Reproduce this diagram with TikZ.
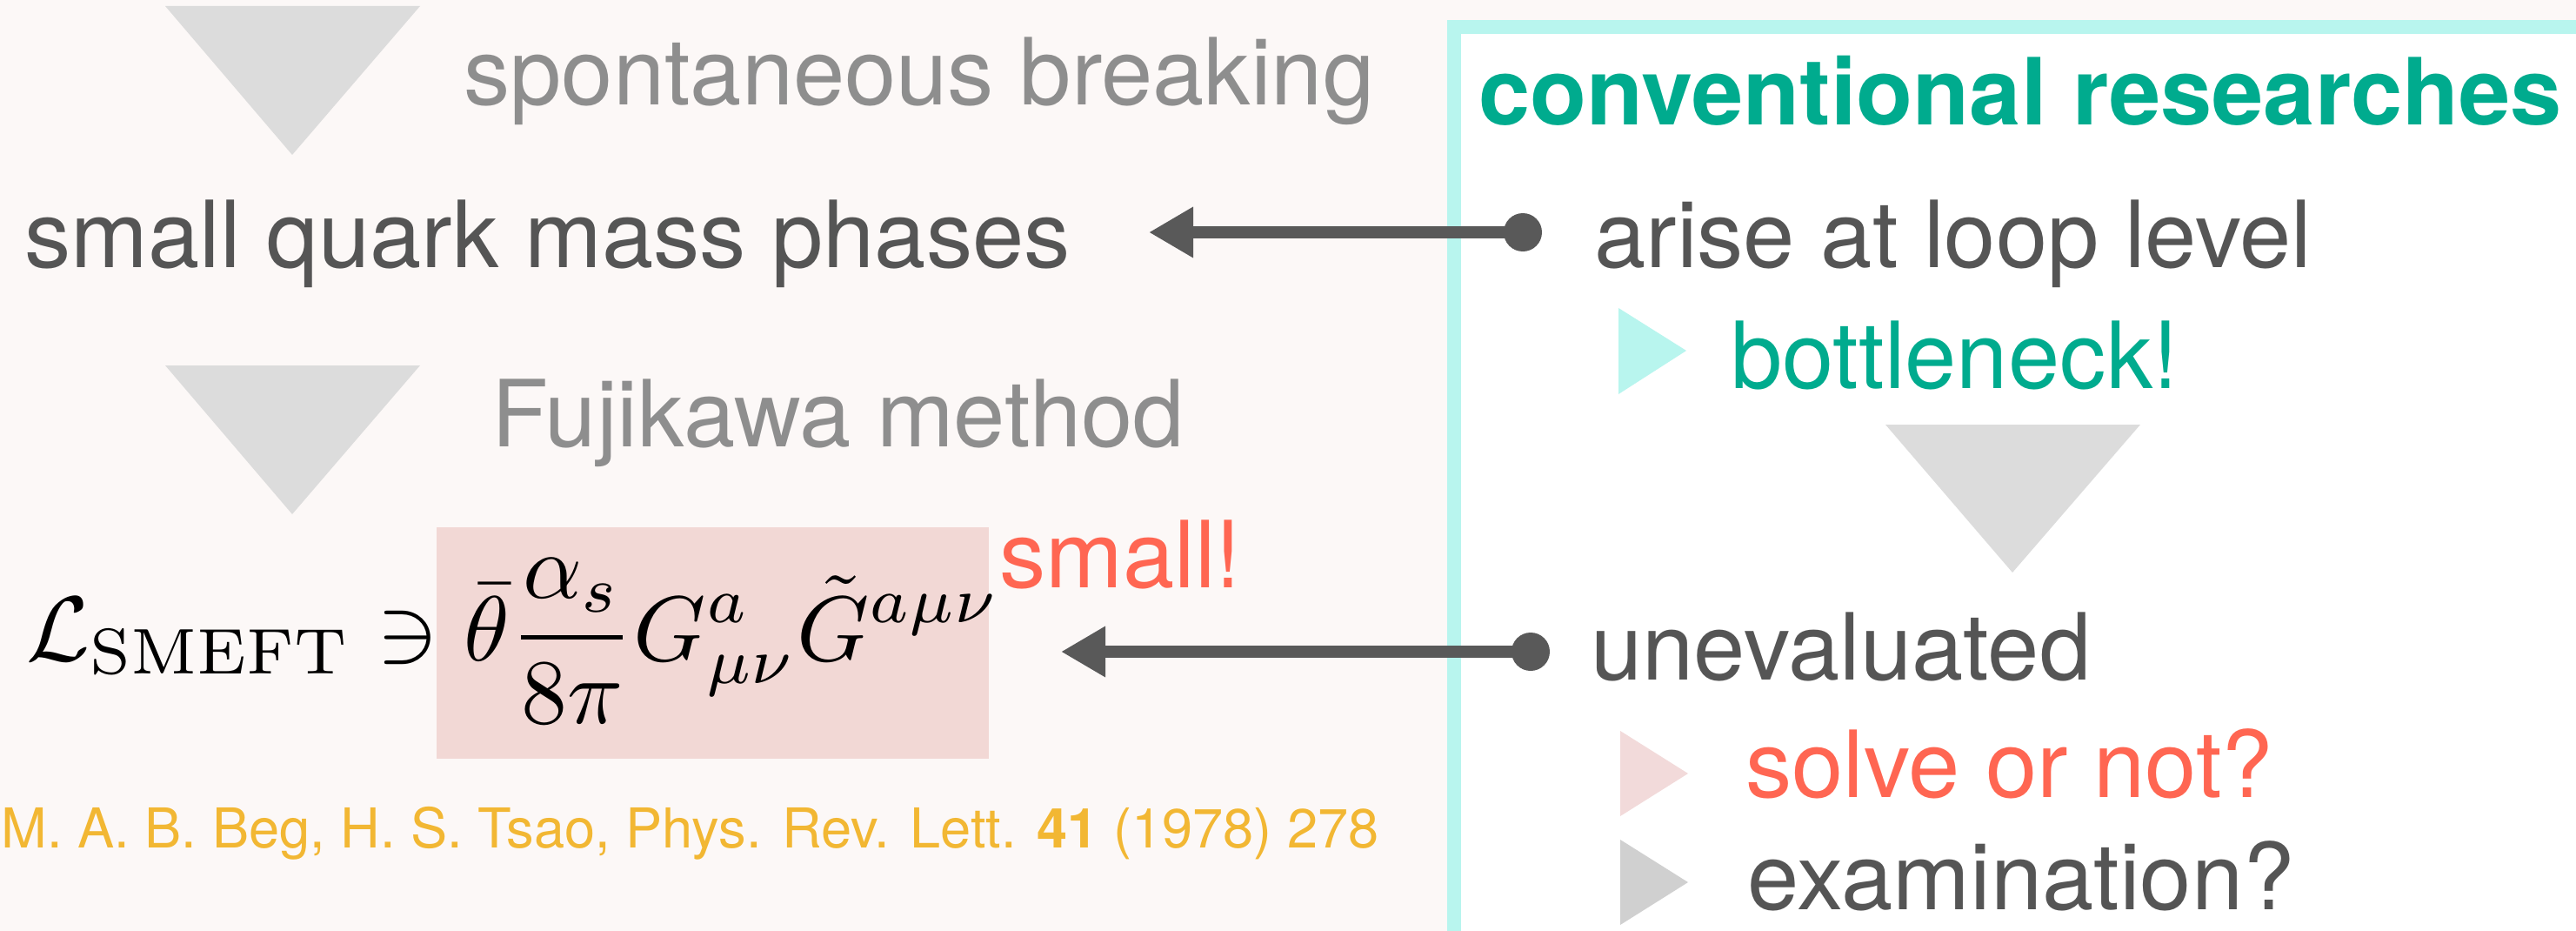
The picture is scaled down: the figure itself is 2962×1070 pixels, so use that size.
\documentclass[tikz,border=0pt]{standalone}
\usepackage{graphicx}
\usepackage[no-math]{fontspec}
\setmainfont{TeX Gyre Heros}
\usetikzlibrary{arrows.meta}
\definecolor{bgpink}{HTML}{FCF8F7}
\definecolor{cyanline}{HTML}{B8F5EE}
\definecolor{boxpink}{HTML}{F2D8D5}
\definecolor{tealtxt}{HTML}{00AB8E}
\definecolor{graytxt}{HTML}{8E8E8E}
\definecolor{darktxt}{HTML}{555555}
\definecolor{redtxt}{HTML}{FF6652}
\definecolor{orangetxt}{HTML}{F2B733}
\definecolor{trigray}{HTML}{DCDCDC}
\definecolor{arrowgray}{HTML}{595959}
\definecolor{tripink}{HTML}{F2DADA}
\definecolor{trigray2}{HTML}{D0D0D0}
\begin{document}
\begin{tikzpicture}[x=0.5pt,y=-0.5pt,
  txt/.style={anchor=base west, inner sep=0pt, font=\fontsize{53.25}{60}\selectfont},
  cite/.style={anchor=base west, inner sep=0pt, font=\fontsize{31.6}{36}\selectfont, text=orangetxt},
  dotnode/.style={circle, fill=arrowgray, inner sep=0pt, minimum size=22pt},
  conn/.style={draw=arrowgray, line width=7pt, -{Triangle[length=25.5pt, width=27.5pt]}}
]
\path[use as bounding box, clip] (0,0) rectangle (2962,1070);
\fill[bgpink] (0,0) rectangle (2962,1070);
% right panel
\filldraw[fill=white, draw=cyanline, line width=8pt] (1672,31) rectangle (3100,1200);

% left column
\fill[trigray] (190,7) -- (483,7) -- (336,178) -- cycle;
\node[txt, text=graytxt] (spont) at (533,120) {spontaneous breaking};
\node[txt, text=darktxt] (sqm) at (28,307) {small quark mass phases};
\fill[trigray] (190,420) -- (483,420) -- (336,591) -- cycle;
\node[txt, text=graytxt] (fuji) at (565,513) {Fujikawa method};

\fill[boxpink] (502,606) rectangle (1137,872);
\node[anchor=base west, inner sep=0pt] (eq) at (30,759)
  {\scalebox{5.3}{$\displaystyle \mathcal{L}_{\rm SMEFT}\ni\bar\theta\frac{\alpha_s}{8\pi}G^a_{\mu\nu}\tilde G^{a\mu\nu}$}};
\node[txt, text=redtxt] (small) at (1149,675) {small!};
\node[cite] (ref) at (1,974) {M. A. B. Beg, H. S. Tsao, Phys. Rev. Lett. \textbf{41} (1978) 278};

% right column
\node[txt, text=tealtxt, font=\fontsize{53.25}{60}\selectfont\bfseries] (conv) at (1700,144) {conventional researches};
\node[txt, text=darktxt] (arise) at (1833,307) {arise at loop level};
\fill[cyanline] (1861,354) -- (1939,403) -- (1861,453) -- cycle;
\node[txt, text=tealtxt] (bottle) at (1990,446) {bottleneck!};
\fill[trigray] (2168,488) -- (2461,488) -- (2314,658) -- cycle;
\node[txt, text=darktxt] (uneval) at (1829,781) {unevaluated};
\fill[tripink] (1863,840) -- (1941,889) -- (1863,938) -- cycle;
\node[txt, text=redtxt] (solve) at (2007,916) {solve or not?};
\fill[trigray2] (1863,965) -- (1941,1014) -- (1863,1063) -- cycle;
\node[txt, text=darktxt] (exam) at (2009,1045) {examination?};

% connectors
\node[dotnode] (d1) at (1751,267) {};
\node[dotnode] (d2) at (1760,749) {};
\coordinate (t1) at (1321,267);
\coordinate (t2) at (1220,749);
\draw[conn] (d1.center) -- (t1);
\draw[conn] (d2.center) -- (t2);
\end{tikzpicture}
\end{document}
